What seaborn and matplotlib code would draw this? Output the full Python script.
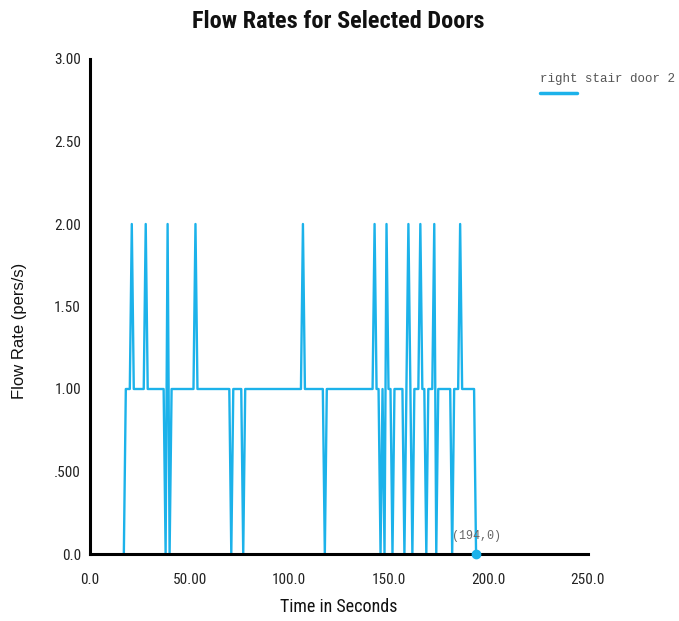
import matplotlib
matplotlib.use("Agg")
import matplotlib.pyplot as plt
from matplotlib import font_manager
from matplotlib.lines import Line2D
import seaborn as sns
import pandas as pd

# ---- data ----
time_s = [17, 18, 20, 21, 22, 27, 28, 29, 37, 38, 39, 40, 41, 52, 53, 54,
          70, 71, 72, 76, 77, 78, 106, 107, 108, 117, 118, 119,
          142, 143, 144, 145, 146, 147, 148, 149, 150, 151, 152, 153,
          157, 158, 159, 160, 161, 162, 163, 165, 166, 167, 168, 169, 170,
          172, 173, 174, 175, 181, 182, 183, 185, 186, 187, 193, 194]
flow_rate = [0, 1, 1, 2, 1, 1, 2, 1, 1, 0, 2, 0, 1, 1, 2, 1,
             1, 0, 1, 1, 0, 1, 1, 2, 1, 1, 0, 1,
             1, 2, 1, 1, 0, 1, 0, 2, 1, 1, 0, 1,
             1, 0, 1, 2, 1, 0, 1, 1, 2, 1, 1, 0, 1,
             1, 2, 0, 1, 1, 0, 1, 1, 2, 1, 1, 0]
series_name = "right stair door 2"
x_ticks = [0, 50, 100, 150, 200, 250]
x_tick_labels = ["0.0", "50.00", "100.0", "150.0", "200.0", "250.0"]
y_ticks = [0, 0.5, 1.0, 1.5, 2.0, 2.5, 3.0]
y_tick_labels = ["0.0", ".500", "1.00", "1.50", "2.00", "2.50", "3.00"]

df = pd.DataFrame({"Time": time_s, "Rate": flow_rate, "Door": series_name})

# pick a narrow / condensed face if one is installed
names = {f.name for f in font_manager.fontManager.ttflist}
stretches = {(f.name, f.stretch) for f in font_manager.fontManager.ttflist}
narrow_family = None
narrow_stretch = "normal"
for cand in ["Liberation Sans Narrow", "Arial Narrow", "Roboto Condensed",
             "Open Sans Condensed", "DejaVu Sans Condensed", "Noto Sans Condensed"]:
    if cand in names:
        narrow_family = cand
        break
if narrow_family is None:
    for (n, st) in stretches:
        if st in ("condensed", "semi-condensed", 400, 300) and n in (
                "DejaVu Sans", "Noto Sans", "Open Sans", "Roboto", "Inter"):
            narrow_family = n
            narrow_stretch = "condensed"
            break
if narrow_family is None:
    narrow_family = "Liberation Sans"
    scale = 0.86
else:
    scale = 1.0

sns.set_style("white")
NARROW = [narrow_family, "DejaVu Sans"]
REG = ["Liberation Sans", "DejaVu Sans"]
MONO = ["Liberation Mono", "DejaVu Sans Mono"]
plt.rcParams["font.family"] = NARROW
plt.rcParams["font.stretch"] = narrow_stretch

BLUE = "#1CB2EA"

fig = plt.figure(figsize=(6.79, 6.21), dpi=100)
ax = fig.add_axes([90 / 679, 67 / 621, 497.5 / 679, 495 / 621])

sns.lineplot(data=df, x="Time", y="Rate", ax=ax, color=BLUE, linewidth=1.7,
             estimator=None, sort=False, legend=False)

# end-point marker and label
ax.plot([time_s[-1]], [flow_rate[-1]], "o", color=BLUE, markersize=6,
        clip_on=False, zorder=5)
ax.annotate(f"({time_s[-1]},{flow_rate[-1]})", (time_s[-1], flow_rate[-1]),
            xytext=(0, 8.5), textcoords="offset points", ha="center",
            va="bottom", fontsize=8.5, color="#666666", family=MONO)

ax.set_xlim(0, 250)
ax.set_ylim(0, 3.0)
ax.set_xticks(x_ticks)
ax.set_xticklabels(x_tick_labels)
ax.set_yticks(y_ticks)
ax.set_yticklabels(y_tick_labels)

for s in ["top", "right"]:
    ax.spines[s].set_visible(False)
for s in ["left", "bottom"]:
    ax.spines[s].set_color("black")
    ax.spines[s].set_linewidth(2.2)
    ax.spines[s].set_zorder(4)

ax.tick_params(axis="both", direction="inout", length=9, width=1.8,
               colors="black", labelsize=11 * scale, labelcolor="#222222")
ax.tick_params(axis="x", pad=9)
ax.tick_params(axis="y", pad=2)
ax.grid(False)

ax.set_xlabel("Time in Seconds", fontsize=13 * scale, color="#111111")
ax.xaxis.set_label_coords(0.5, -(607 - 554) / 495, transform=ax.transAxes)
ax.xaxis.label.set_va("center")
ax.set_ylabel("Flow Rate (pers/s)", fontsize=12, color="#111111",
              family=REG, fontstretch="normal")
ax.yaxis.set_label_coords(-(90 - 20) / 497.5, 0.45, transform=ax.transAxes)
ax.yaxis.label.set_va("center")

fig.suptitle("Flow Rates for Selected Doors", x=338 / 679, y=1 - 22 / 621,
             va="center", fontsize=17.5 * scale, fontweight="bold", color="#111111")

# legend (text with coloured underline beneath the first word)
fig.text(540 / 679, 1 - 79 / 621, series_name, fontsize=9,
         color="#555555", family=MONO, va="center", ha="left")
fig.add_artist(Line2D([540 / 679, 577 / 679], [1 - 93 / 621, 1 - 93 / 621],
                      color=BLUE, linewidth=2.5, transform=fig.transFigure))

fig.savefig("out.png", dpi=100)
